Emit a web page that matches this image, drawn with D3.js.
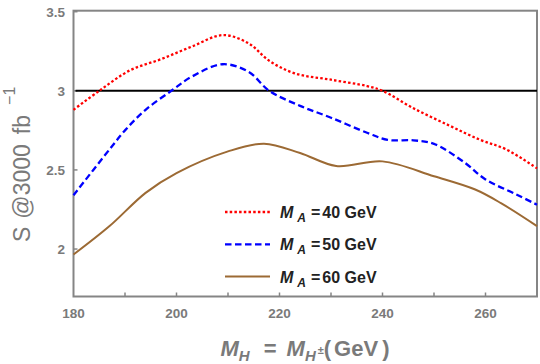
<!DOCTYPE html>
<html>
<head>
<meta charset="utf-8">
<script src="https://cdn.jsdelivr.net/npm/d3@7"></script>
<style>
  body { margin: 0; background: #fff; }
  svg { font-family: "Liberation Sans", Arial, sans-serif; }
</style>
</head>
<body>
<svg width="540" height="364"></svg>
<script>
let width = 540, height = 364;

// data
let mh = [180, 185, 191, 197, 203, 209, 214, 218, 223, 230, 237, 240, 246, 253, 259, 264, 270];
let s40 = [2.88, 3.0, 3.13, 3.2, 3.28, 3.352, 3.30, 3.19, 3.11, 3.07, 3.03, 3.0, 2.89, 2.78, 2.69, 2.63, 2.51];
let mh50 = [180, 187, 190, 194, 199, 203, 209, 214, 218, 224, 230, 237, 241, 246, 250, 256, 260, 266, 270];
let s50 = [2.34, 2.63, 2.75, 2.88, 3.0, 3.09, 3.168, 3.12, 3.0, 2.905, 2.83, 2.735, 2.69, 2.687, 2.665, 2.545, 2.44, 2.345, 2.28];
let mh60 = [180, 187, 194, 200, 210, 217, 224, 231, 240, 250, 258, 263, 270];
let s60 = [1.965, 2.145, 2.355, 2.48, 2.617, 2.666, 2.607, 2.525, 2.554, 2.46, 2.376, 2.29, 2.145];

let xTicks = [180, 190, 200, 210, 220, 230, 240, 250, 260, 270];
let xLabels = [180, 200, 220, 240, 260];
let yTicks = [2, 2.5, 3, 3.5];
let refLine = 3;

let legendNames = ["40", "50", "60"];

let svg = d3.select("svg");
let x = d3.scaleLinear().domain([180, 270]).range([73.5, 537]);
let y = d3.scaleLinear().domain([1.7, 3.5]).range([296.5, 11.7]);
let grey = "#858585", lbl = "#7a7a7a";

let plot = svg.append("g");

// frame
plot.append("rect")
  .attr("x", x(180)).attr("y", 10.7)
  .attr("width", x(270) - x(180)).attr("height", 296.5 - 10.7)
  .attr("fill", "none").attr("stroke", grey).attr("stroke-width", 2);

// x ticks (inward from bottom)
plot.selectAll(".xt").data(xTicks.slice(1, -1)).join("line")
  .attr("x1", d => x(d)).attr("x2", d => x(d))
  .attr("y1", 296.5).attr("y2", 292.5)
  .attr("stroke", grey).attr("stroke-width", 1.5);
svg.selectAll(".xl").data(xLabels).join("text")
  .attr("x", d => x(d)).attr("y", 318)
  .attr("text-anchor", "middle").attr("fill", lbl)
  .attr("font-size", 13.5).attr("font-weight", "bold")
  .text(d => d);

// y ticks
plot.selectAll(".yt").data(yTicks).join("line")
  .attr("x1", x(180)).attr("x2", x(180) + 4)
  .attr("y1", d => y(d)).attr("y2", d => y(d))
  .attr("stroke", grey).attr("stroke-width", 1.5);
svg.selectAll(".yl").data(yTicks).join("text")
  .attr("x", 65).attr("y", d => y(d) + 5)
  .attr("text-anchor", "end").attr("fill", lbl)
  .attr("font-size", 13.5).attr("font-weight", "bold")
  .text(d => d);

// reference line
plot.append("line")
  .attr("x1", x(180) + 2).attr("x2", x(270))
  .attr("y1", y(refLine)).attr("y2", y(refLine))
  .attr("stroke", "black").attr("stroke-width", 2);

let line = d3.line().x(d => x(d[0])).y(d => y(d[1])).curve(d3.curveCatmullRom.alpha(0.5));

let series = [
  { xs: mh, ys: s40, color: "#ff0000", dash: "2.5,2.2", w: 2.3 },
  { xs: mh50, ys: s50, color: "#0000ff", dash: "6.5,3.5", w: 2.3 },
  { xs: mh60, ys: s60, color: "#9c6a34", dash: null, w: 2 }
];

series.forEach(s => {
  plot.append("path")
    .attr("d", line(s.xs.map((v, i) => [v, s.ys[i]])))
    .attr("fill", "none").attr("stroke", s.color)
    .attr("stroke-width", s.w).attr("stroke-dasharray", s.dash);
});

// legend
let leg = svg.append("g");
series.forEach((s, i) => {
  let ly = 212 + i * 32.3;
  leg.append("line")
    .attr("x1", 225).attr("x2", 270).attr("y1", ly).attr("y2", ly)
    .attr("stroke", s.color).attr("stroke-width", s.w).attr("stroke-dasharray", s.dash);
  let t = leg.append("text").attr("x", 280).attr("y", ly + 6)
    .attr("font-size", 16).attr("font-weight", "bold").attr("fill", "#222");
  t.append("tspan").attr("font-style", "italic").text("M");
  t.append("tspan").attr("font-style", "italic").attr("font-size", 12).attr("dx", 4).attr("dy", 4).text("A");
  t.append("tspan").attr("dx", 5).attr("dy", -4).text("=");
  t.append("tspan").attr("dx", 2).text(legendNames[i] + " GeV");
});

// x axis title
let xt = svg.append("text").attr("x", 305).attr("y", 356)
  .attr("text-anchor", "middle").attr("font-size", 22)
  .attr("font-weight", "bold").attr("fill", lbl);
xt.append("tspan").attr("font-style", "italic").text("M");
xt.append("tspan").attr("font-style", "italic").attr("font-size", 15).attr("dy", 5).text("H");
xt.append("tspan").attr("dx", 14).attr("dy", -5).text("=");
xt.append("tspan").attr("dx", 10).attr("font-style", "italic").text("M");
xt.append("tspan").attr("font-style", "italic").attr("font-size", 15).attr("dy", 5).text("H");
xt.append("tspan").attr("font-size", 11).attr("dx", 2).attr("dy", -7).text("±");
xt.append("tspan").attr("dy", 2).text("(");
xt.append("tspan").attr("dx", 3).text("GeV");
xt.append("tspan").attr("dx", 4).text(")");

// y axis title
let yt = svg.append("text").attr("transform", "translate(30,242) rotate(-90)")
  .attr("text-anchor", "start").attr("font-size", 23).attr("fill", lbl);
yt.append("tspan").text("S");
yt.append("tspan").attr("dx", 8).text("@3000");
yt.append("tspan").attr("dx", 10).text("fb");
yt.append("tspan").attr("font-size", 16).attr("dx", 10).attr("dy", -15).text("−1");
</script>
</body>
</html>
